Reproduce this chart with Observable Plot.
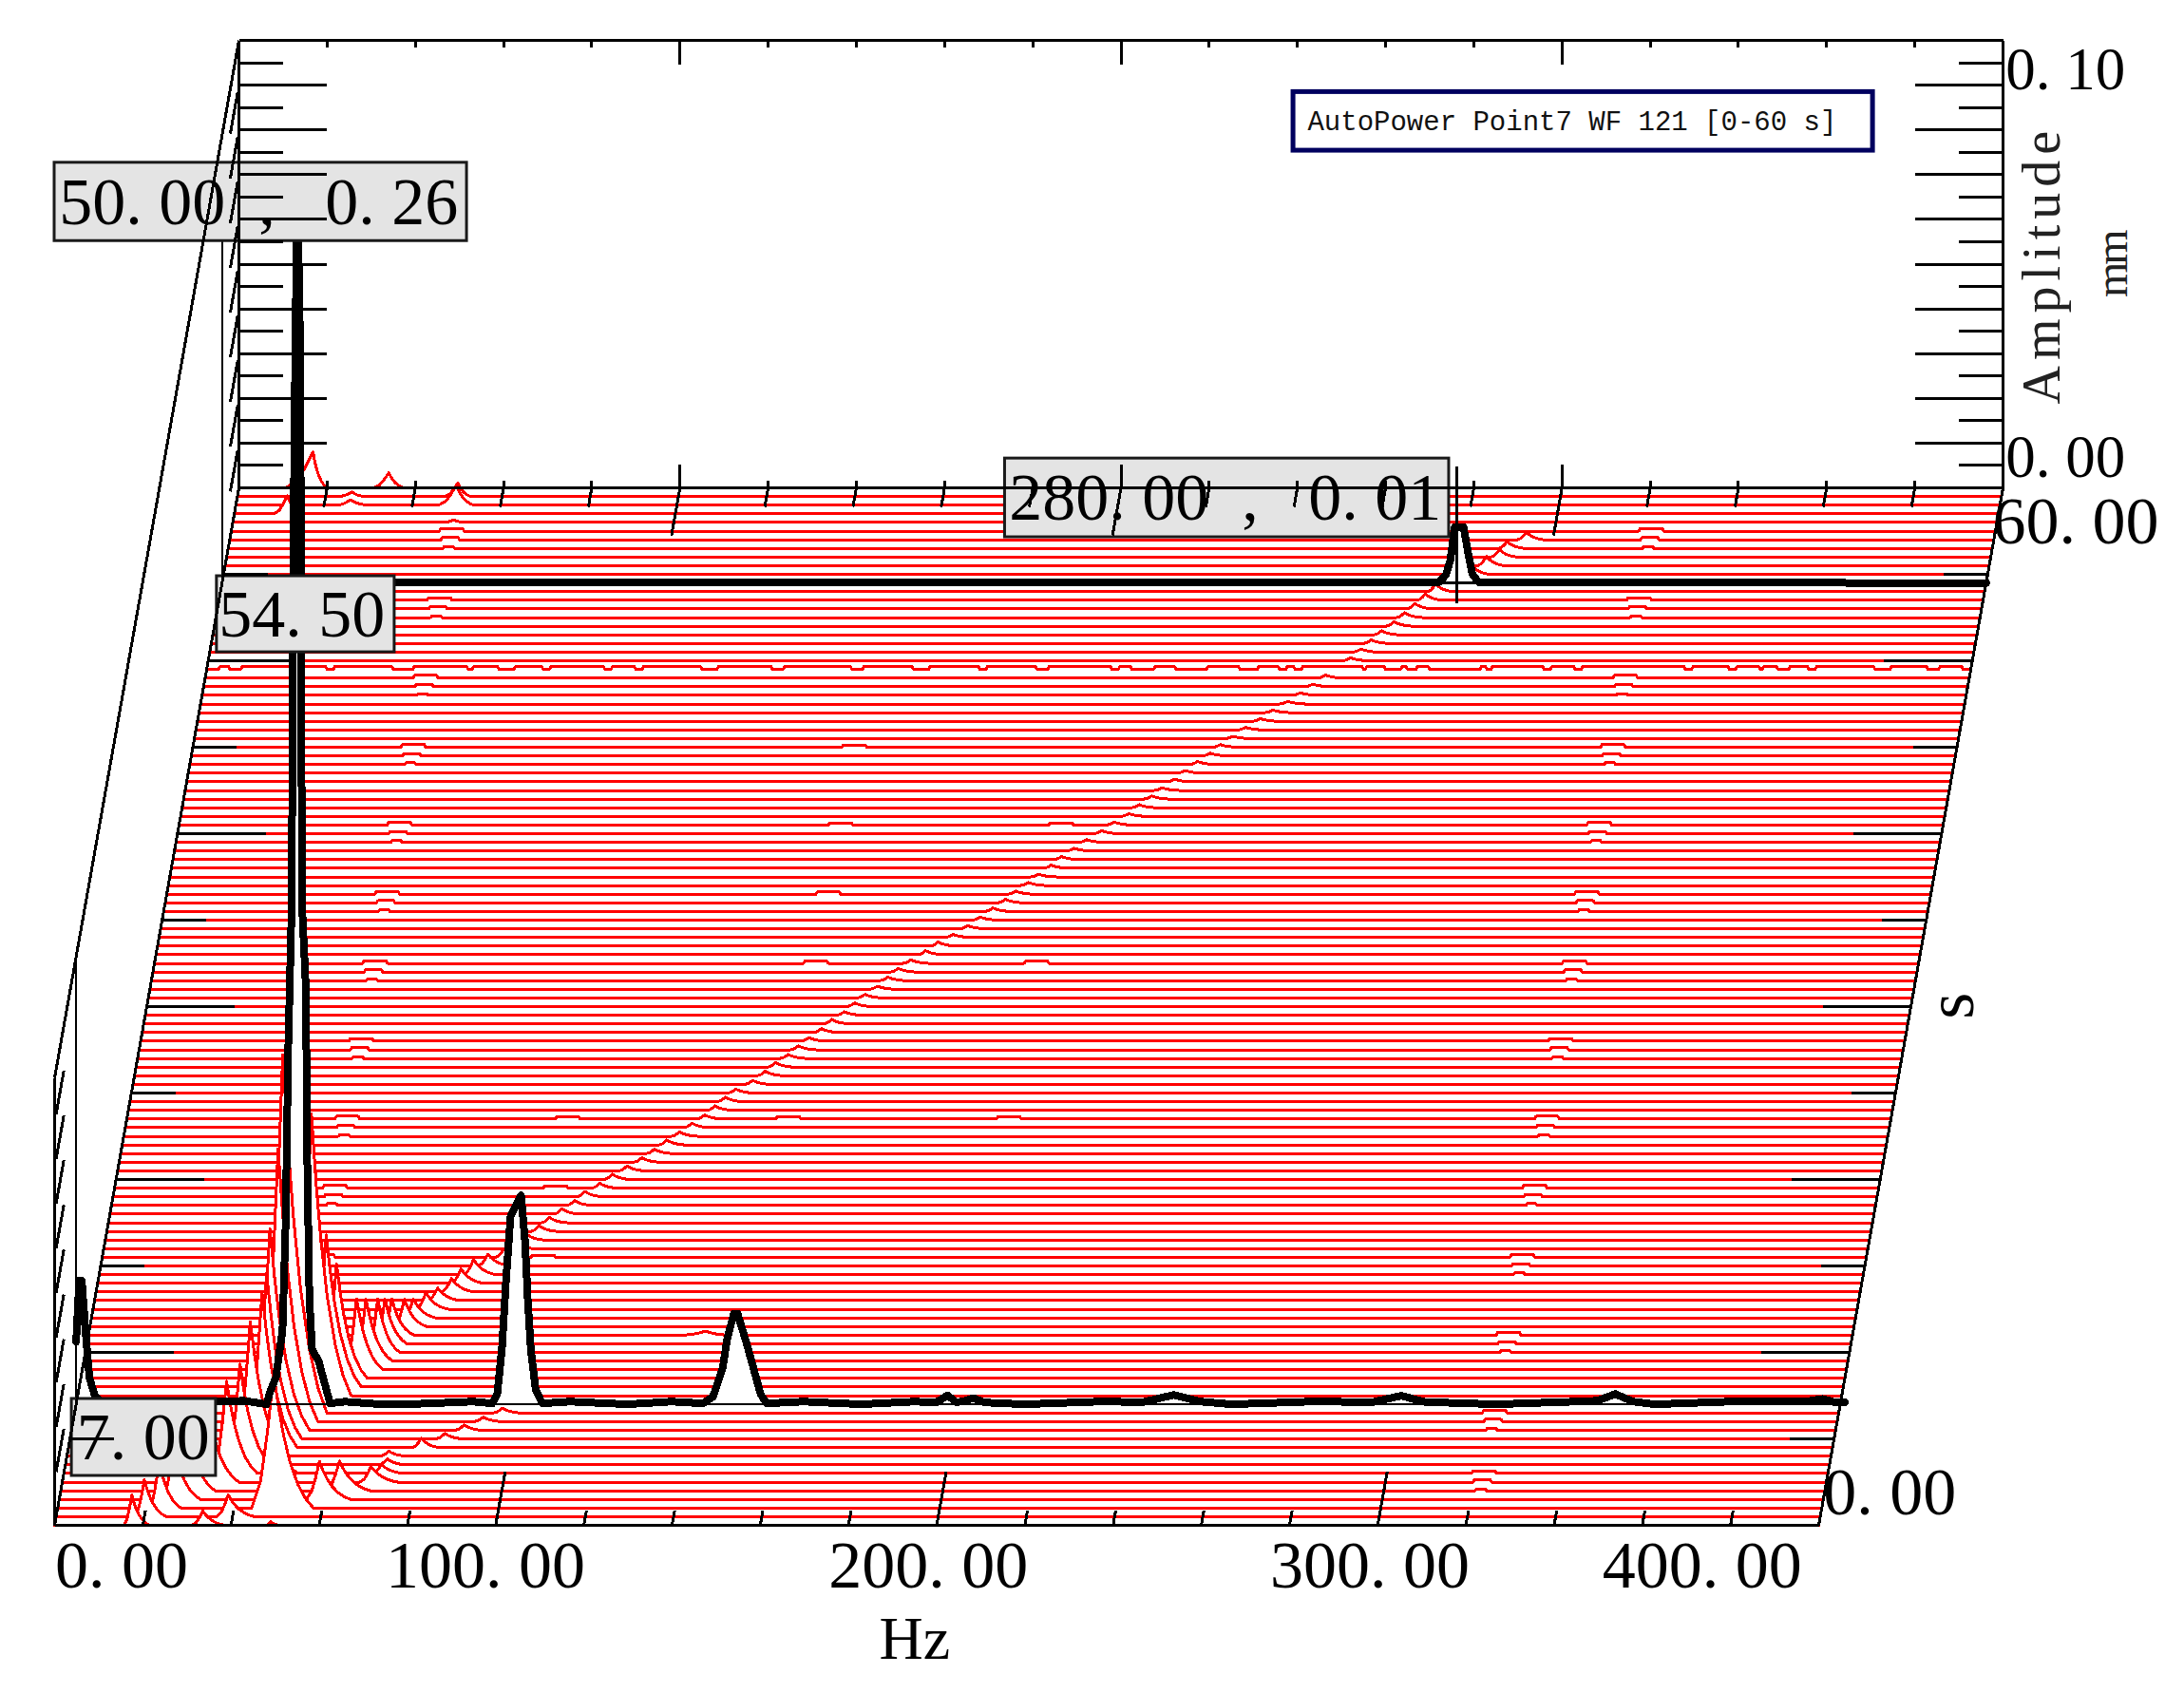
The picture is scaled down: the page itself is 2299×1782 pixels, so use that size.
<!DOCTYPE html>
<html>
<head>
<meta charset="utf-8">
<script src="https://cdn.jsdelivr.net/npm/d3@7"></script>
<script src="https://cdn.jsdelivr.net/npm/@observablehq/plot@0.6"></script>
<style>
html,body{margin:0;padding:0;background:#fff}
svg{display:block;background:#fff}
</style>
</head>
<body>
<div id="chart"></div>
<script>
// ---------- data ----------
const legendText = "AutoPower Point7 WF 121 [0-60 s]";
const xTickLabels = ["0.00","100.00","200.00","300.00","400.00"];
const cursorLabels = ["50.00 , 0.26","54.50","280.00 , 0.01","7.00"];

// highlighted spectrum at 7.00 s
const row7Hz  = [0,0.7,1.3,2,3,4.2,6,14,22,30,38,43.2,43.8,45.3,46.8,47.5,48.1,48.9,49.2,49.7,50,50.4,50.8,51,51.2,52,52.2,52.4,52.9,53.5,55,57.6,61,69,75,90,94.4,95.5,96.6,97.4,98.5,100.9,101.8,102.4,103.1,104.2,105.7,112,125,135,142.2,144.4,146.6,147.6,149.1,150,152.2,155.2,156.5,165,178,190,195,197.6,199.5,201,203.4,206,215,232,242,248.9,255,262,280,294,300.4,306,322,340,345,349,353,358,375,392,396,399,401];
const row7Amp = [0.014,0.0276,0.0276,0.018,0.006,0.002,0,0.0004,0,0.0005,0.0008,0,0.0023,0.006,0.0166,0.04,0.08,0.112,0.186,0.236,0.26,0.26,0.236,0.186,0.112,0.095,0.08,0.055,0.0236,0.0123,0.0096,0.0002,0.0006,0,0,0.0006,0.0002,0.0023,0.013,0.0265,0.042,0.0467,0.0363,0.0236,0.0123,0.0032,0.0002,0.0006,0,0.0006,0.0002,0.0017,0.0081,0.0144,0.0202,0.0202,0.013,0.0023,0.0002,0.0006,0,0.0006,0.0004,0.002,0.0005,0.0006,0.0014,0.0004,0,0.0006,0.0005,0.0021,0.0006,0,0.0006,0.0005,0.0019,0.0005,0,0.0006,0.0008,0.0023,0.0006,0,0.0006,0.0006,0.0012,0.0004,0.0004];

// highlighted spectrum at 54.50 s
const row54Hz  = [0,276,277.5,278.5,279.5,281.5,282.5,283.5,285,400];
const row54Amp = [0,0.0002,0.0018,0.005,0.0125,0.0125,0.007,0.002,0.0001,0];

// main sweep peak on the rows before it flattens: seconds, Hz, mm, tail width in Hz
const startPeaks = [
 [0,17.5,0.0068,4],[0.5,20,0.0082,5],[1,23,0.0105,5],[1.5,26,0.012,6],[2,29,0.0135,6],[2.5,33,0.0165,7],
 [3,36.9,0.0206,7],[3.5,39.6,0.0225,7],[4,41.6,0.03,8],[4.5,43.9,0.0347,8],[5,44.6,0.037,8],[5.5,45,0.045,9],
 [6,46.5,0.061,9],[6.5,47.2,0.08,10],[7.5,53,0.063,9],[8,56,0.034,8],[8.5,58,0.0255,7],[9,62.2,0.0158,6],
 [9.5,64,0.0138,6],[10,66.3,0.0119,5],[10.5,67.6,0.01,5],[11,68.8,0.0081,5],[11.5,71.3,0.0061,5],[12,73,0.0042,5],
 [12.5,75.5,0.0037,5],[13,77.8,0.0028,5],[13.5,80.6,0.003,5],[14,82.4,0.0032,5],[14.5,84.9,0.0034,5],[15,87.8,0.0026,5],
 [15.5,91,0.0018,4]
];
// sweep ridge, one value per half second from 16 s to 54 s
const sweepStart = 16;
const sweepHz = [93.5,95.5,98,100,102.5,105,107,110,112.5,115.5,118.5,121,123.5,126,128.5,131,133,
 135,137,140.5,143,145,147.5,149.5,151.5,154,156,158.5,160.5,162.5,165,167,169,
 171.5,174.5,177,180,183,185.5,188,190.5,192.5,195,197,199.5,201.5,204,206.5,209.5,
 212,215,217,219.5,221.5,224,226,228.5,231,233,235.5,238,241,243.5,246.5,249,
 251.5,254,256.5,259,261,263,265,267.5,269.5,271.5,273.5,275.5];
const sweepAmp = [.0014,.0013,.0013,.0012,.0012,.0011,.0012,.0011,.0012,.0011,.0010,.0010,.0011,.0010,.0010,.0009,.0010,
 .0010,.0009,.0009,.0010,.0010,.0009,.0009,.0008,.0009,.0010,.0008,.0008,.0008,.0007,.0008,.0008,
 .0008,.0009,.0009,.0007,.0007,.0007,.0008,.0008,.0007,.0007,.0006,.0007,.0007,.0006,.0006,.0007,
 .0007,.0006,.0007,.0007,.0006,.0006,.0006,.0007,.0006,.0006,.0005,.0006,.0006,.0006,.0006,.0006,
 .0006,.0007,.0006,.0007,.0007,.0008,.0009,.0010,.0011,.0012,.0014,.0017];
// other peaks: seconds, Hz, mm, tail width, left width
const otherPeaks = [
 [0,33.6,0.0032,5,2.5],[0,49,0.0008,2,1],[0.5,39,0.0049,6,2.6],[1,49,0.03,9,5],[1.5,59,0.0085,7,3],[2,63.2,0.0066,7,3],
 [2.5,70,0.0035,6,2.5],[3,72,0.002,5,2],[3.5,73,0.0013,4,2],[4,73,0.0011,4,2],[4.5,80,0.0021,4,2],[5,85,0.0012,4,2],
 [5.5,89,0.0012,4,2],[6,93,0.001,4,2],[6.5,97,0.0011,4,2],[11,140,0.0009,5,5],
 [55,283,0.002,4,2],[55.5,286,0.0021,4,2],[56,288.6,0.0017,4,2],[56.5,290,0.0015,4,2],[57,294,0.0017,4,2],
 [60,16.8,0.008,3.2,6.2],[60,34,0.0034,3.5,3.5],[59.5,50,0.003,3,3],[59,50,0.0045,4,4],[58.5,12,0.004,4,3],
 [59.5,26,0.001,3,3],[59,26,0.0012,4,3],[58,50,0.0006,3,2]
];
// short bursts seen every four seconds
const burstT = [3,6.5,11,15.5,19.5,23.5,28,32.5,36.5,40.5,45,49,53.5,57.5];
const burst50Hz = 50;
const burst322Hz = 322;
const burstAmp = [0.0006,0.0005,0.0004];
const burstHalfWidth = [2.5,1.8,1];
const burst100T = [15.5,19.5,23.5];
const burst150T = [23.5,32.5,36.5,40.5,45];
const burst200T = [23.5,32.5,40.5];
// low stretches of the rippled row at 49.50 s
const rippleT = 49.5;
const rippleAmp = 0.0006;
const rippleLow = [[0,3],[5,8],[27,29],[42,47],[59,60.5],[66,70],[76,78],[90,92],[97,99],[112,116],[128,131],[146,149],[160,164],[175,177],[188,191],[205,207],[209.5,215],[219.5,227],[234,238.5],[243,245],[246.5,248.5],[262,263],[267,271],[272,274.5],[277,289],[290,291.5],[303,305],[310,312],[335,337],[345,347],[352,353],[356,359],[363,365],[378,382],[390,393],[398,400]];
// shape of one peak as fractions of its widths and height
const rightOffset = [0,0.12,0.24,0.4,0.6,0.8,1];
const rightShare  = [1,0.75,0.55,0.35,0.18,0.07,0];
const leftOffset  = [1,0.6,0.3,0];
const leftShare   = [0,0.2,0.55,1];

// ---------- oblique projection in scale units ----------
const SKEW_X = 0.6965;     // Hz per second of depth
const SKEW_Y = 0.003864;   // mm per second of depth
const px = (hz,t) => hz + t*SKEW_X;
const py = (a,t) => a + t*SKEW_Y;

// ---------- assemble rows ----------
const peaksByRow = new Map();
const add = (t,p) => { if(!peaksByRow.has(t)) peaksByRow.set(t,[]); peaksByRow.get(t).push(p); };
const peak = (hz,amp,tail,left) => {
  const xs = [], ys = [];
  const l = left === undefined ? tail*0.45 : left;
  leftOffset.forEach((o,i)=>{ xs.push(hz-o*l); ys.push(leftShare[i]*amp); });
  rightOffset.slice(1).forEach((o,i)=>{ xs.push(hz+o*tail); ys.push(rightShare[i+1]*amp); });
  return {xs,ys};
};
const plateau = (lo,hi,amp) => ({xs:[lo-0.3,lo,hi,hi+0.3], ys:[0,amp,amp,0]});
startPeaks.forEach(([t,h,a,w])=>add(t,peak(h,a,w)));
sweepHz.forEach((h,i)=>add(sweepStart+i*0.5,peak(h,sweepAmp[i],4)));
otherPeaks.forEach(([t,h,a,w,l])=>add(t,peak(h,a,w,l)));
burstT.forEach(t=>{
  burstAmp.forEach((a,k)=>{
    add(t-k*0.5,plateau(burst50Hz-burstHalfWidth[k],burst50Hz+burstHalfWidth[k],a));
    add(t-k*0.5,plateau(burst322Hz-burstHalfWidth[k],burst322Hz+burstHalfWidth[k],a));
  });
});
[[burst100T,100],[burst150T,150],[burst200T,200]].forEach(([ts,h])=>ts.forEach(t=>add(t,plateau(h-2.5,h+2.5,0.0005))));
rippleLow.forEach((r,i)=>{ if(i<rippleLow.length-1) add(rippleT,plateau(r[1],rippleLow[i+1][0],rippleAmp)); });

const valueAt = (p,x) => {
  const {xs,ys} = p;
  if(x<=xs[0]||x>=xs[xs.length-1]) return 0;
  const i = d3.bisectRight(xs,x);
  const f = (x-xs[i-1])/(xs[i]-xs[i-1]);
  return ys[i-1]+(ys[i]-ys[i-1])*f;
};
const buildRow = t => {
  const ps = peaksByRow.get(t)||[];
  const stops = [...new Set([0,400,...ps.flatMap(p=>p.xs)])].filter(x=>x>=0&&x<=400).sort((a,b)=>a-b);
  return stops.map(x=>({hz:x,t,amp:d3.max(ps,p=>valueAt(p,x))||0}));
};
const fromArrays = (t,h,a) => h.map((x,i)=>({hz:x,t,amp:a[i]}));
const row7 = fromArrays(7,row7Hz,row7Amp);
const row54 = fromArrays(54.5,row54Hz,row54Amp);

const rowTimes = d3.range(120,-1,-1).map(i=>i*0.5);

// ---------- marks ----------
const X = d=>px(d.hz,d.t), Y = d=>py(d.amp,d.t);
const rowMarks = rowTimes.flatMap(t=>{
  if(t===7) return [Plot.areaY(row7,{x:X,y1:d=>py(0,d.t),y2:Y,fill:"white"})];
  if(t===54.5) return [Plot.areaY(row54,{x:X,y1:d=>py(0,d.t),y2:Y,fill:"white"})];
  const r = buildRow(t);
  const m = [];
  if(r.length>2) m.push(Plot.areaY(r,{x:X,y1:d=>py(0,d.t),y2:Y,fill:"white"}));
  m.push(Plot.line(r,{x:X,y:Y,stroke:"#ff0000",strokeWidth:3,shapeRendering:"crispEdges"}));
  return m;
});
const seg = (list,w=3) => Plot.link(list,{x1:d=>px(d[0],d[1]),y1:d=>py(d[2],d[1]),x2:d=>px(d[3],d[4]),y2:d=>py(d[5],d[4]),stroke:"#000",strokeWidth:w,shapeRendering:"crispEdges"});

const hzTicks = d3.range(20,400,20);
const ampTicks = d3.range(1,21).map(k=>k*0.005);
const isMajorA = a => Math.round(a/0.005)%2===0;
const tTicks = d3.range(5,60,5);

const frame = [
 [0,60,0,0,60,0.1],[0,60,0.1,400,60,0.1],[400,60,0.1,400,60,0],[0,60,0,400,60,0],
 [0,60,0.1,0,0,0.1],[0,0,0.1,0,0,0],[0,0,0,0,60,0],[0,0,0,400,0,0],[400,0,0,400,60,0]
];
const ticks = [
 ...hzTicks.map(h=>[h,60,0.1,h,60,0.1-(h%100===0?0.0053:0.0015)]),
 ...hzTicks.map(h=>[h,60,0,h,60,(h%100===0?0.0053:0.0015)]),
 ...hzTicks.map(h=>[h,60,0,h,60-(h%100===0?2.75:1.1),0]),
 ...hzTicks.map(h=>[h,0,0,h,(h%100===0?3.1:0.85),0]),
 ...ampTicks.map(a=>[0,60,a,isMajorA(a)?20:10,60,a]),
 ...ampTicks.map(a=>[400,60,a,isMajorA(a)?380:390,60,a]),
 ...ampTicks.filter(isMajorA).map(a=>[0,59.6,a,0,57.2,a]),
 ...ampTicks.filter(isMajorA).map(a=>[0,0.5,a,0,3,a]),
 ...tTicks.map(t=>[0,t,0,t%10===0?20:10,t,0]),
 ...tTicks.map(t=>[400,t,0,t%10===0?380:390,t,0])
];
const cursors = [
 [0,7,0,0,7,0.1],[0,54.5,0,0,54.5,0.094],[280,54.5,-0.0045,280,54.5,0.026],
 [0,7,0,400,7,0],[0,54.5,0,400,54.5,0]
];
const box = (x1,x2,y1,y2) => Plot.rect([0],{x1:()=>x1,x2:()=>x2,y1:()=>y1,y2:()=>y2,fill:"#e4e4e4",stroke:"#1a1a1a",strokeWidth:3});
const label = (s,x,y,o={}) => Plot.text([s],{text:d=>d,x:()=>x,y:()=>y,fontFamily:"Liberation Serif",fontSize:70,fill:"#000",textAnchor:"start",lineAnchor:"middle",...o});

const chart = Plot.plot({
  width:2299,height:1782,margin:0,
  style:{background:"#fff",overflow:"visible"},
  x:{domain:[0,400],range:[57,1914],axis:null},
  y:{domain:[0,0.33185],range:[1605,42],axis:null},
  marks:[
    ...rowMarks,
    Plot.line(row7,{x:X,y:Y,stroke:"#000",strokeWidth:8,shapeRendering:"crispEdges"}),
    Plot.line(row54,{x:X,y:Y,stroke:"#000",strokeWidth:8,shapeRendering:"crispEdges"}),
    seg(cursors,2.4),
    box(0,93.5,0.2870,0.3045),
    box(36.8,77.1,0.1951,0.2121),
    box(215.5,316.2,0.2208,0.2384),
    box(3.9,36.6,0.01104,0.02824),
    seg(frame,3),
    seg(ticks),
    label(cursorLabels[0],1,0.2955),
    label(cursorLabels[1],37.2,0.2034),
    label(cursorLabels[2],216.4,0.2295),
    label(cursorLabels[3],5,0.0195),
    Plot.rect([0],{x1:()=>280.9,x2:()=>412.3,y1:()=>0.3072,y2:()=>0.3203,fill:"#fff",stroke:"#00005f",strokeWidth:5}),
    Plot.text([legendText],{text:d=>d,x:()=>284.1,y:()=>0.3138,fontFamily:"Liberation Mono",fontSize:29,fill:"#111",textAnchor:"start",lineAnchor:"middle"}),
    label(xTickLabels[0],0.1,-0.0091),
    label(xTickLabels[1],97.7,-0.0091,{textAnchor:"middle"}),
    label(xTickLabels[2],198.1,-0.0091,{textAnchor:"middle"}),
    label(xTickLabels[3],298.2,-0.0091,{textAnchor:"middle"}),
    label(xTickLabels[4],396.2,-0.0091,{textAnchor:"end"}),
    label("Hz",195,-0.0254,{textAnchor:"middle",fontSize:64}),
    label("0.10",442.4,0.3253,{fontSize:63}),
    label("0.00",442.4,0.2386,{fontSize:63}),
    label("60.00",439.4,0.2242),
    label("0.00",401,0.0072),
    label("s",430,0.1161,{rotate:-90,textAnchor:"middle",fontSize:72}),
    label("Amplitude",450.8,0.2817,{rotate:-90,textAnchor:"middle",fontSize:56,fill:"#222"}),
    label("mm",466.5,0.2817,{rotate:-90,textAnchor:"middle",fontSize:48,fill:"#222"})
  ]
});
document.getElementById("chart").appendChild(chart);

// numbers in the reference use one even advance per character
chart.querySelectorAll("text").forEach(el=>{
  const s = el.textContent;
  if(s==="Amplitude"){ el.style.letterSpacing="6px"; return; }
  if(s==="mm"){ el.style.letterSpacing="-3px"; return; }
  if(!/^[\d., ]+$/.test(s)) return;
  const fs = parseFloat(getComputedStyle(el).fontSize);
  const dx = [...s].map((c,i)=>{
    if(i===0) return 0;
    const p = s[i-1];
    return (p==="."||p===" "||p===",") ? 0.25*fs : 0;
  });
  el.setAttribute("dx",dx.join(" "));
});
</script>
</body>
</html>
